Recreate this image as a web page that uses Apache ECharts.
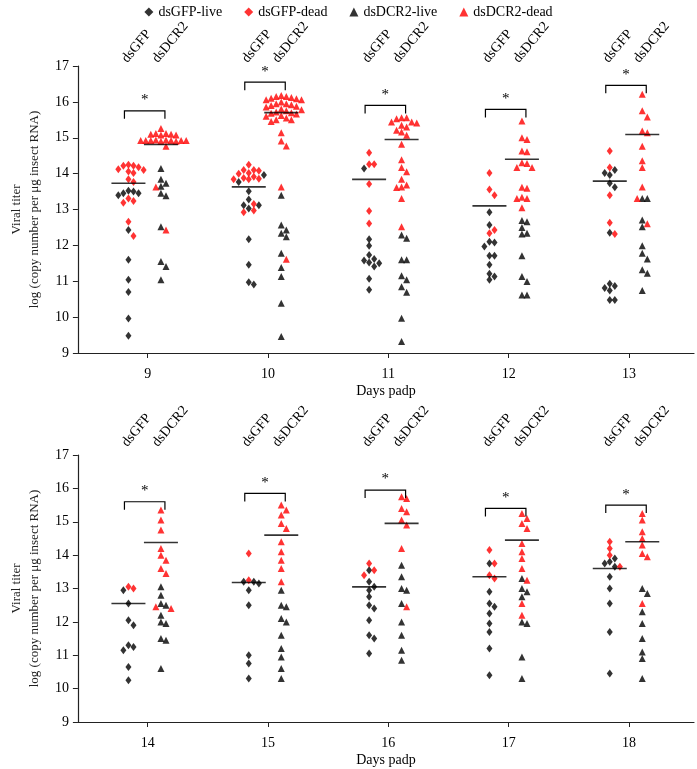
<!DOCTYPE html>
<html>
<head>
<meta charset="utf-8">
<script src="https://cdn.jsdelivr.net/npm/echarts@6/dist/echarts.min.js"></script>
<style>
  html, body { margin: 0; padding: 0; background: #fff; }
  #chart { width: 697px; height: 769px; }
</style>
</head>
<body>
<div id="chart"></div>
<script>
// days of the two panels
var topDays = [9, 10, 11, 12, 13];
var bottomDays = [14, 15, 16, 17, 18];
var groupNames = ['dsGFP', 'dsDCR2'];

// log viral titer, one list per day
var gfpLiveTop = [
  [13.52, 13.45, 13.4, 13.5, 13.45, 12.43, 11.6, 11.04, 10.7, 9.96, 9.48],
  [13.96, 13.77, 13.51, 13.28, 13.12, 13.12, 13.03, 12.17, 11.46, 10.97, 10.91],
  [14.14, 12.17, 11.99, 11.73, 11.62, 11.58, 11.52, 11.5, 11.41, 11.07, 10.76],
  [12.92, 12.57, 12.08, 12.1, 11.97, 11.71, 11.71, 11.46, 11.21, 11.13, 11.04],
  [14.1, 14.02, 13.96, 13.73, 13.62, 12.35, 10.93, 10.87, 10.81, 10.74, 10.48, 10.48]
];
var gfpDeadTop = [
  [14.25, 14.22, 14.18, 14.22, 14.12, 14.06, 14.1, 14.02, 13.84, 13.77, 13.31, 13.24, 13.19, 12.66, 12.26],
  [14.25, 14.1, 14.08, 14.1, 14.02, 14.0, 13.91, 13.88, 13.84, 13.84, 13.86, 13.15, 12.97, 12.92],
  [14.58, 14.26, 14.26, 13.71, 12.96, 12.61],
  [14.02, 13.56, 13.4, 12.43, 12.34],
  [14.63, 14.17, 13.4, 12.63, 12.32]
];
var dcrLiveTop = [
  [14.14, 13.84, 13.73, 13.65, 13.45, 13.38, 12.52, 11.55, 11.41, 11.04],
  [13.4, 12.57, 12.43, 12.34, 12.24, 11.78, 11.38, 11.13, 10.39, 9.46],
  [12.29, 12.2, 11.6, 11.6, 11.15, 11.04, 10.85, 10.69, 9.97, 9.32],
  [12.69, 12.66, 12.5, 12.34, 12.32, 11.71, 11.13, 10.99, 10.62, 10.62],
  [13.31, 13.31, 12.71, 12.52, 11.99, 11.78, 11.62, 11.32, 11.22, 10.74]
];
var dcrDeadTop = [
  [15.26, 15.12, 15.12, 15.1, 15.1, 15.08, 15.08, 14.94, 14.92, 14.92, 14.92, 14.9, 14.92, 14.94, 14.92, 14.92, 14.9, 14.76, 13.63, 12.43],
  [16.18, 16.15, 16.15, 16.12, 16.1, 16.09, 16.06, 16.06, 16.0, 15.95, 15.95, 15.92, 15.9, 15.88, 15.86, 15.8, 15.78, 15.75, 15.72, 15.7, 15.68, 15.66, 15.62, 15.6, 15.55, 15.5, 15.5, 15.45, 15.14, 14.91, 14.77, 13.63, 11.61],
  [15.56, 15.56, 15.53, 15.44, 15.41, 15.44, 15.3, 15.35, 15.21, 15.16, 15.07, 14.82, 14.39, 14.17, 14.05, 13.84, 13.68, 13.63, 13.61, 13.31, 12.52],
  [15.47, 15.0, 14.95, 14.63, 14.61, 14.3, 14.28, 14.17, 14.17, 13.62, 13.59, 13.31, 13.31, 13.34, 13.05],
  [16.21, 15.75, 15.58, 15.19, 15.14, 14.76, 14.36, 14.17, 13.63, 13.31, 12.6]
];
var gfpMeanTop = [13.73, 13.63, 13.84, 13.1, 13.79];
var dcrMeanTop = [14.81, 15.7, 14.95, 14.4, 15.09];
var bracketTop = [15.75, 16.55, 15.9, 15.79, 16.46];

var gfpLiveBottom = [
  [12.95, 12.55, 12.05, 11.9, 11.3, 11.25, 11.15, 10.65, 10.25],
  [13.2, 13.2, 13.15, 12.95, 12.5, 11.0, 10.75, 10.3],
  [13.55, 13.2, 13.05, 12.95, 12.75, 12.5, 12.4, 12.05, 11.6, 11.5, 11.05],
  [13.75, 12.9, 12.55, 12.45, 12.25, 11.95, 11.7, 11.2, 10.4],
  [13.9, 13.8, 13.75, 13.65, 13.35, 13.0, 12.55, 11.7, 10.45]
];
var gfpDeadBottom = [
  [13.05, 13.0],
  [14.05, 13.25],
  [13.75, 13.55, 13.4],
  [14.15, 13.75, 13.4, 13.3],
  [14.4, 14.2, 14.0, 13.65]
];
var dcrLiveBottom = [
  [13.05, 12.8, 12.55, 12.5, 12.2, 12.0, 11.95, 11.5, 11.45, 10.6],
  [12.95, 12.5, 12.45, 12.1, 12.0, 11.6, 11.2, 10.95, 10.6, 10.3],
  [13.7, 13.35, 13.0, 12.95, 12.55, 12.0, 11.6, 11.15, 10.85],
  [13.3, 13.0, 12.9, 12.75, 12.0, 11.95, 10.95, 10.3],
  [13.0, 12.85, 12.3, 11.95, 11.5, 11.1, 10.9, 10.3]
];
var dcrDeadBottom = [
  [15.35, 15.05, 14.75, 14.2, 14.0, 13.85, 13.6, 13.45, 12.45, 12.4],
  [15.5, 15.35, 15.2, 14.95, 14.8, 14.4, 14.1, 13.85, 13.6, 13.2],
  [15.75, 15.7, 15.4, 15.3, 15.05, 14.9, 14.2, 12.45],
  [15.25, 15.1, 14.95, 14.8, 14.35, 14.1, 13.9, 13.6, 13.25, 12.55, 12.2],
  [15.25, 15.05, 14.7, 14.5, 14.3, 14.05, 13.95, 12.55]
];
var gfpMeanBottom = [12.55, 13.18, 13.05, 13.35, 13.6];
var dcrMeanBottom = [14.38, 14.6, 14.95, 14.45, 14.4];
var bracketBottom = [15.6, 15.85, 15.95, 15.4, 15.5];

var FONT = '"Liberation Serif", "Times New Roman", serif';
var RED = '#ff0000', BLACK = '#000000';
var gOff = -0.16, dOff = 0.11;   // column offsets from the day tick
var step = 0.042;                // horizontal swarm step (days)
var rowGap = 0.17;               // points closer than this share a row

// simple beeswarm: spread points that overlap vertically
function swarm(center, live, dead) {
  var pts = live.map(function (v) { return { v: v, dead: false }; })
    .concat(dead.map(function (v) { return { v: v, dead: true }; }));
  pts.sort(function (a, b) { return b.v - a.v; });
  var placed = [];
  var out = { live: [], dead: [] };
  pts.forEach(function (p) {
    for (var k = 0; k < 60; k++) {
      var off = k === 0 ? 0 : (k % 2 ? (k + 1) / 2 : -k / 2);
      var hit = placed.some(function (q) {
        return q.off === off && Math.abs(q.v - p.v) < rowGap;
      });
      if (!hit) {
        placed.push({ off: off, v: p.v });
        (p.dead ? out.dead : out.live).push([center + off * step, p.v]);
        break;
      }
    }
  });
  return out;
}

function panel(gi, days, gl, gd, dl, dd, gm, dm, br, lift) {
  var s = { gl: [], gd: [], dl: [], dd: [] };
  var means = [], brackets = [], names = [];
  days.forEach(function (d, i) {
    var a = swarm(d + gOff, gl[i], gd[i]);
    var b = swarm(d + dOff, dl[i], dd[i]);
    s.gl = s.gl.concat(a.live); s.gd = s.gd.concat(a.dead);
    s.dl = s.dl.concat(b.live); s.dd = s.dd.concat(b.dead);
    means.push([d + gOff, gm[i]], [d + dOff, dm[i]]);
    brackets.push([d + gOff, d + dOff, br[i]]);
    names.push([d + gOff, 17, 0], [d + dOff, 17, 1]);
  });
  function sc(name, data, sym, color, size) {
    return {
      type: 'scatter', name: name, xAxisIndex: gi, yAxisIndex: gi,
      data: data, symbol: sym, symbolSize: size,
      itemStyle: { color: color }, silent: true, z: 3
    };
  }
  return [
    sc('dsGFP-live', s.gl, 'diamond', BLACK, [6, 8]),
    sc('dsGFP-dead', s.gd, 'diamond', RED, [6, 8]),
    sc('dsDCR2-live', s.dl, 'triangle', BLACK, [7, 7]),
    sc('dsDCR2-dead', s.dd, 'triangle', RED, [7, 7]),
    {
      type: 'scatter', xAxisIndex: gi, yAxisIndex: gi, data: means,
      symbol: 'rect', symbolSize: [34, 1.6], itemStyle: { color: BLACK }, silent: true, z: 4
    },
    {
      // significance brackets
      type: 'custom', xAxisIndex: gi, yAxisIndex: gi, data: brackets,
      encode: { x: [0, 1], y: 2 }, silent: true, z: 4,
      renderItem: function (params, api) {
        var p1 = api.coord([api.value(0), api.value(2)]);
        var p2 = api.coord([api.value(1), api.value(2)]);
        var x1 = p1[0] - 4, x2 = p2[0] + 4, y = p1[1];
        return {
          type: 'group',
          children: [
            {
              type: 'polyline',
              shape: { points: [[x1, y + 8], [x1, y], [x2, y], [x2, y + 8]] },
              style: { stroke: BLACK, lineWidth: 1.2, fill: null }
            },
            {
              type: 'text',
              style: {
                x: (x1 + x2) / 2, y: y - 3, text: '*', fill: BLACK,
                font: '15px ' + FONT, align: 'center', verticalAlign: 'bottom'
              }
            }
          ]
        };
      }
    },
    {
      // slanted group names above each column
      type: 'custom', xAxisIndex: gi, yAxisIndex: gi, data: names,
      encode: { x: 0, y: 1 }, silent: true, clip: false,
      renderItem: function (params, api) {
        var p = api.coord([api.value(0), api.value(1)]);
        var isDcr = api.value(2) === 1;
        return {
          type: 'text',
          x: p[0] - (isDcr ? 6 : 4), y: p[1] - lift,
          rotation: Math.PI * 0.28,
          style: {
            x: 0, y: 0, text: groupNames[api.value(2)], fill: BLACK,
            font: '14px ' + FONT, align: 'left', verticalAlign: 'middle'
          }
        };
      }
    }
  ];
}

function xAxis(gi, days) {
  return {
    type: 'value', gridIndex: gi,
    min: days[0] - 0.58, max: days[days.length - 1] + 0.54,
    name: 'Days padp', nameLocation: 'middle', nameGap: 31,
    nameTextStyle: { fontFamily: FONT, fontSize: 14, color: BLACK },
    axisLine: { lineStyle: { color: '#222', width: 1.2 } },
    axisTick: { customValues: days, length: 5, lineStyle: { color: '#222' } },
    axisLabel: {
      customValues: days, margin: 14, fontFamily: FONT, fontSize: 14, color: BLACK,
      formatter: function (v) { return String(Math.round(v)); }
    },
    splitLine: { show: false }
  };
}

function yAxis(gi) {
  return {
    type: 'value', gridIndex: gi, min: 9, max: 17, interval: 1,
    name: 'Viral titer\nlog (copy number per \u03bcg insect RNA)',
    nameLocation: 'middle', nameGap: 30,
    nameTextStyle: { fontFamily: FONT, fontSize: 13, color: '#222', lineHeight: 18 },
    axisLine: { show: true, lineStyle: { color: '#222', width: 1.2 } },
    axisTick: { show: true, length: 5, lineStyle: { color: '#222' } },
    axisLabel: { fontFamily: FONT, fontSize: 14, color: BLACK, margin: 9 },
    splitLine: { show: false }
  };
}

var chart = echarts.init(document.getElementById('chart'), null, { renderer: 'canvas' });
chart.setOption({
  animation: false,
  backgroundColor: '#fff',
  legend: {
    top: 0, left: 'center', itemWidth: 9, itemHeight: 9, itemGap: 22,
    data: [
      { name: 'dsGFP-live', icon: 'diamond' },
      { name: 'dsGFP-dead', icon: 'diamond' },
      { name: 'dsDCR2-live', icon: 'triangle' },
      { name: 'dsDCR2-dead', icon: 'triangle' }
    ],
    textStyle: { fontFamily: FONT, fontSize: 14, color: BLACK }
  },
  grid: [
    { left: 65, right: 3, top: 66, height: 287 },
    { left: 65, right: 3, top: 455, height: 267 }
  ],
  xAxis: [xAxis(0, topDays), xAxis(1, bottomDays)],
  yAxis: [yAxis(0), yAxis(1)],
  series: panel(0, topDays, gfpLiveTop, gfpDeadTop, dcrLiveTop, dcrDeadTop, gfpMeanTop, dcrMeanTop, bracketTop, 5)
    .concat(panel(1, bottomDays, gfpLiveBottom, gfpDeadBottom, dcrLiveBottom, dcrDeadBottom, gfpMeanBottom, dcrMeanBottom, bracketBottom, 10))
});
</script>
</body>
</html>
